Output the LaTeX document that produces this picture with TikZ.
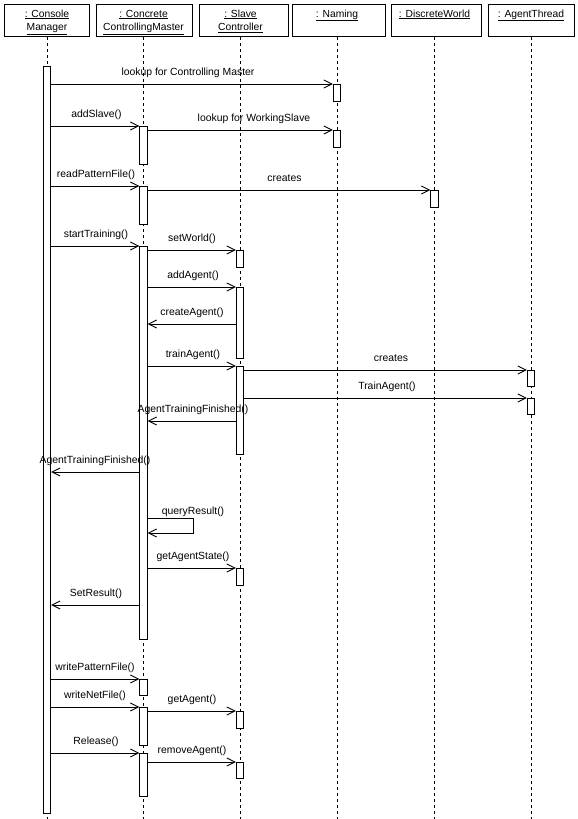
\documentclass[tikz,border=0pt]{standalone}
\usepackage{fontspec}
\setmainfont{Liberation Sans}
\usetikzlibrary{arrows.meta}
\newcommand\actbar[4]{\node[act, minimum height={(#4-#3)*1pt}] (#1) at (#2,#3) {};}
\begin{document}
\begin{tikzpicture}[x=1pt,y=-1pt,
  line width=0.9pt,
  obj/.style={draw, rectangle, inner sep=0, anchor=north west, minimum height=32pt},
  hdr/.style={anchor=base, inner sep=0, font=\fontsize{10.3}{12}\selectfont},
  lbl/.style={anchor=base, inner sep=0, font=\fontsize{10.4}{12}\selectfont},
  act/.style={draw, fill=white, rectangle, inner sep=0, minimum width=7.5pt, anchor=north},
  life/.style={dash pattern=on 3pt off 3pt, line width=0.8pt},
  msg/.style={-{Straight Barb[length=8pt,width=8pt]}},
  ]
\useasboundingbox (0,0) rectangle (578,819);
% headers
\node[obj, minimum width=85pt] (hcm) at (4,4) {};
\node[obj, minimum width=96pt] (hcc) at (96,4) {};
\node[obj, minimum width=89pt] (hsc) at (199,4) {};
\node[obj, minimum width=93pt] (hnm) at (292,4) {};
\node[obj, minimum width=90pt] (hdw) at (391,4) {};
\node[obj, minimum width=86pt] (hat) at (488,4) {};
\node[hdr] (tcm1) at (47,17) {\underline{: Console}};
\node[hdr] (tcm2) at (47,30.5) {\underline{Manager}};
\node[hdr] (tcc1) at (143.5,17) {\underline{: Concrete}};
\node[hdr] (tcc2) at (143.5,30.5) {\underline{ControllingMaster}};
\node[hdr] (tsc1) at (240.5,17) {\underline{: Slave}};
\node[hdr] (tsc2) at (240.5,30.5) {\underline{Controller}};
\node[hdr] (tnm) at (337,17) {\underline{: Naming}};
\node[hdr] (tdw) at (434.5,17) {\underline{: DiscreteWorld}};
\node[hdr] (tat) at (531,17) {\underline{: AgentThread}};
% lifelines
\coordinate (ecm) at (47,819);
\coordinate (ecc) at (143.5,819);
\coordinate (esc) at (240,819);
\coordinate (enm) at (337,819);
\coordinate (edw) at (434.5,819);
\coordinate (eat) at (531,819);
\draw[life] (hcm.south -| ecm) -- (ecm);
\draw[life] (hcc.south -| ecc) -- (ecc);
\draw[life] (hsc.south -| esc) -- (esc);
\draw[life] (hnm.south -| enm) -- (enm);
\draw[life] (hdw.south -| edw) -- (edw);
\draw[life] (hat.south -| eat) -- (eat);
% activation bars
\actbar{cm}{47}{66}{813}
\actbar{nm1}{337}{84}{101}
\actbar{nm2}{337}{130}{147}
\actbar{ca1}{143.5}{126}{164}
\actbar{ca2}{143.5}{186}{224}
\actbar{dw1}{434.5}{190}{207}
\actbar{ca3}{143.5}{246}{639}
\actbar{sa1}{240}{250}{267}
\actbar{sa2}{240}{287}{358}
\actbar{sa3}{240}{366}{454}
\actbar{at1}{531}{370}{386}
\actbar{at2}{531}{398}{414}
\actbar{sa4}{240}{568}{585}
\actbar{ca4}{143.5}{679}{695}
\actbar{ca5}{143.5}{707}{745}
\actbar{sa5}{240}{711}{728}
\actbar{ca6}{143.5}{753}{796}
\actbar{sa6}{240}{762}{778}
% messages
\draw[msg] (cm.east |- nm1.north) -- (nm1.north west);
\node[lbl] (l1) at (188,75.5) {lookup for Controlling Master};
\draw[msg] (cm.east |- ca1.north) -- (ca1.north west);
\node[lbl] (l2) at (96.5,117.5) {addSlave()};
\draw[msg] (ca1.east |- nm2.north) -- (nm2.north west);
\node[lbl] (l3) at (254,121.5) {lookup for WorkingSlave};
\draw[msg] (cm.east |- ca2.north) -- (ca2.north west);
\node[lbl] (l4) at (96,177.5) {readPatternFile()};
\draw[msg] (ca2.east |- dw1.north) -- (dw1.north west);
\node[lbl] (l5) at (284.5,181.5) {creates};
\draw[msg] (cm.east |- ca3.north) -- (ca3.north west);
\node[lbl] (l6) at (96,237.5) {startTraining()};
\draw[msg] (ca3.east |- sa1.north) -- (sa1.north west);
\node[lbl] (l7) at (192,241) {setWorld()};
\draw[msg] (ca3.east |- sa2.north) -- (sa2.north west);
\node[lbl] (l8) at (193,278.5) {addAgent()};
\draw[msg] (sa2.west |- 0,324) -- (ca3.east |- 0,324);
\node[lbl] (l9) at (192,315.5) {createAgent()};
\draw[msg] (ca3.east |- sa3.north) -- (sa3.north west);
\node[lbl] (l10) at (193,357) {trainAgent()};
\draw[msg] (sa3.east |- at1.north) -- (at1.north west);
\node[lbl] (l11) at (391,361) {creates};
\draw[msg] (sa3.east |- at2.north) -- (at2.north west);
\node[lbl] (l12) at (387,389.5) {TrainAgent()};
\draw[msg] (sa3.west |- 0,421) -- (ca3.east |- 0,421);
\node[lbl] (l13) at (193,412.5) {AgentTrainingFinished()};
\draw[msg] (ca3.west |- 0,472) -- (cm.east |- 0,472);
\node[lbl] (l14) at (95,463.5) {AgentTrainingFinished()};
\coordinate (qa) at (193,518);
\coordinate (qb) at (193,533);
\draw[msg] (ca3.east |- qa) -- (qa) -- (qb) -- (ca3.east |- qb);
\node[lbl] (l15) at (193,514.5) {queryResult()};
\draw[msg] (ca3.east |- sa4.north) -- (sa4.north west);
\node[lbl] (l16) at (193,559.5) {getAgentState()};
\draw[msg] (ca3.west |- 0,605) -- (cm.east |- 0,605);
\node[lbl] (l17) at (96,596.5) {SetResult()};
\draw[msg] (cm.east |- ca4.north) -- (ca4.north west);
\node[lbl] (l18) at (95,670.5) {writePatternFile()};
\draw[msg] (cm.east |- ca5.north) -- (ca5.north west);
\node[lbl] (l19) at (95,698.5) {writeNetFile()};
\draw[msg] (ca5.east |- sa5.north) -- (sa5.north west);
\node[lbl] (l20) at (192,702.5) {getAgent()};
\draw[msg] (cm.east |- ca6.north) -- (ca6.north west);
\node[lbl] (l21) at (96,744.5) {Release()};
\draw[msg] (ca6.east |- sa6.north) -- (sa6.north west);
\node[lbl] (l22) at (192,753.5) {removeAgent()};
\end{tikzpicture}
\end{document}
